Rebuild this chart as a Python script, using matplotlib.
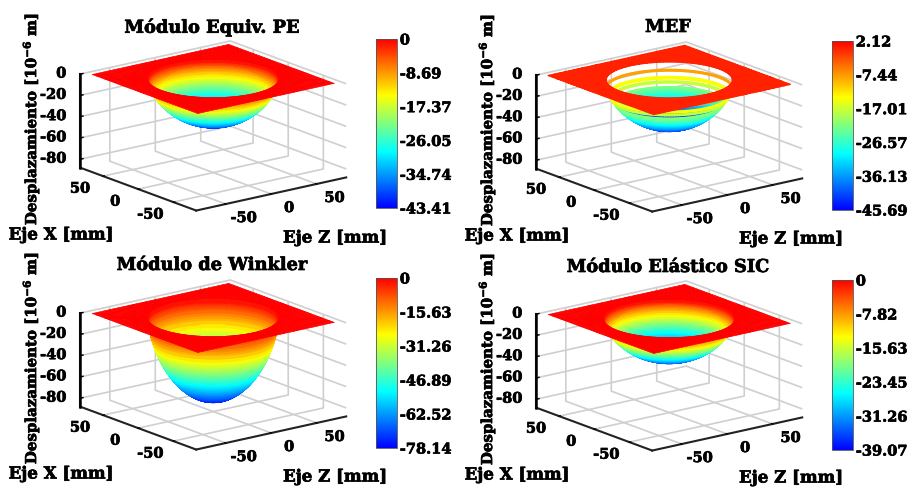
import numpy as np
import matplotlib
matplotlib.use("Agg")
import matplotlib.pyplot as plt
import matplotlib.patheffects as pe
from matplotlib.cm import ScalarMappable
from matplotlib.colors import LinearSegmentedColormap, Normalize
from matplotlib.text import Text
from mpl_toolkits.mplot3d.art3d import Poly3DCollection

titles = ['Módulo Equiv. PE', 'MEF', 'Módulo de Winkler', 'Módulo Elástico SIC']

# colorbar ends and labels
z_min = [-43.41, -45.69, -78.14, -39.07]
z_max = [0, 2.12, 0, 0]
cbar_ticks = [
    [-43.41, -34.74, -26.05, -17.37, -8.69, 0],
    [-45.69, -36.13, -26.57, -17.01, -7.44, 2.12],
    [-78.14, -62.52, -46.89, -31.26, -15.63, 0],
    [-39.07, -31.26, -23.45, -15.63, -7.82, 0],
]
cbar_labels = [
    ['-43.41', '-34.74', '-26.05', '-17.37', '-8.69', '0'],
    ['-45.69', '-36.13', '-26.57', '-17.01', '-7.44', '2.12'],
    ['-78.14', '-62.52', '-46.89', '-31.26', '-15.63', '0'],
    ['-39.07', '-31.26', '-23.45', '-15.63', '-7.82', '0'],
]

# bowl profile, radius in mm and depth per panel
radii = [0, 3, 6, 9, 12, 15, 18, 21, 24, 26, 28, 30, 32, 34, 36, 37.5, 39, 40.5, 42, 43,
         44, 45, 46, 47, 48, 49, 50, 51, 52, 53, 54, 54.5, 55, 55.5, 56, 56.3, 56.6, 56.8, 57]
depth_pe = [43.41, 43.33, 43.08, 42.72, 42.22, 41.52, 40.66, 39.60, 38.42, 37.50, 36.51,
            35.42, 34.29, 32.97, 31.56, 30.44, 29.26, 27.97, 26.61, 25.65, 24.66, 23.60,
            22.49, 21.30, 20.06, 18.75, 17.36, 15.84, 14.24, 12.46, 10.46, 9.38, 8.16,
            6.86, 5.30, 4.25, 3.00, 1.95, 0]
depth_mef = [45.69, 45.60, 45.35, 44.96, 44.44, 43.70, 42.80, 41.68, 40.44, 39.47, 38.42,
             37.28, 36.09, 34.70, 33.22, 32.04, 30.80, 29.44, 28.01, 27.00, 25.95, 24.84,
             23.67, 22.42, 21.11, 19.73, 18.28, 16.68, 14.99, 13.11, 11.01, 9.87, 8.59,
             7.22, 5.57, 4.48, 3.15, 2.06, 0]
depth_wink = [78.14, 78.00, 77.55, 76.90, 76.00, 74.74, 73.19, 71.28, 69.15, 67.50, 65.72,
              63.76, 61.73, 59.35, 56.81, 54.79, 52.67, 50.35, 47.90, 46.17, 44.38, 42.48,
              40.48, 38.34, 36.10, 33.75, 31.26, 28.52, 25.63, 22.43, 18.83, 16.88, 14.69,
              12.35, 9.53, 7.66, 5.39, 3.52, 0]
depth_sic = [39.07, 39.00, 38.78, 38.45, 38.00, 37.37, 36.60, 35.64, 34.58, 33.75, 32.86,
             31.88, 30.87, 29.67, 28.40, 27.40, 26.33, 25.17, 23.95, 23.09, 22.19, 21.24,
             20.24, 19.17, 18.05, 16.87, 15.63, 14.26, 12.81, 11.21, 9.42, 8.44, 7.35,
             6.17, 4.77, 3.83, 2.70, 1.76, 0]
depths = [depth_pe, depth_mef, depth_wink, depth_sic]

# plate half width and hole radius per panel, MEF has open bands near the rim
plate_half = 75
hole_radius = [57, 55, 57, 57]
open_bands = [[], [24, 25, 27, 29, 30, 31, 33, 34, 35, 36, 37], [], []]

x_ticks = [-50, 0, 50]
z_ticks = [-80, -60, -40, -20, 0]

# axis limits
H_LIM = 82.5
Z_LOW = -88

# axes rectangle in pixels (left, top of square) and colorbar (left, top, bottom)
W, H = 911, 487
AX_SIZE = 277
ax_px = [(71, -9), (527, -8), (71, 230), (527, 231)]
cb_px = [(376, 39, 208), (832, 41, 210), (376, 278, 448), (832, 280, 450)]
xlabel_px = [(61, 235), (517, 236), (61, 474), (517, 475)]
zlabel_px = [(335, 238), (791, 239), (335, 477), (791, 478)]
ylabel_px = [(31, 119), (487, 120), (31, 358), (487, 359)]
title_px = [(212, 27), (668, 27), (212, 265), (668, 267)]

plt.rcParams['font.family'] = 'DejaVu Serif'
plt.rcParams['font.weight'] = 'bold'
plt.rcParams['mathtext.fontset'] = 'dejavuserif'
plt.rcParams['axes.unicode_minus'] = False

cmap = LinearSegmentedColormap.from_list('bar', ['#0000ff', '#00ffff', '#ffff00', '#ff0000'], N=512)


def bowl_polys(depth, skip, n_theta=144):
    th = np.linspace(0, 2 * np.pi, n_theta + 1)
    polys, vals = [], []
    for i in range(len(radii) - 1):
        if i in skip:
            continue
        r0, r1 = radii[i], radii[i + 1]
        z0, z1 = -depth[i], -depth[i + 1]
        for j in range(n_theta):
            polys.append([
                (r0 * np.cos(th[j]), r0 * np.sin(th[j]), z0),
                (r1 * np.cos(th[j]), r1 * np.sin(th[j]), z1),
                (r1 * np.cos(th[j + 1]), r1 * np.sin(th[j + 1]), z1),
                (r0 * np.cos(th[j + 1]), r0 * np.sin(th[j + 1]), z0),
            ])
            vals.append((z0 + z1) / 2)
    return polys, vals


def plate_polys(hole, n_theta=144):
    th = np.linspace(0, 2 * np.pi, n_theta + 1)
    outer = plate_half / np.maximum(np.abs(np.cos(th)), np.abs(np.sin(th)))
    steps = [0, 0.1, 0.25, 0.45, 0.7, 1]
    polys = []
    for k in range(len(steps) - 1):
        r0 = hole + (outer - hole) * steps[k]
        r1 = hole + (outer - hole) * steps[k + 1]
        for j in range(n_theta):
            polys.append([
                (r0[j] * np.cos(th[j]), r0[j] * np.sin(th[j]), 0),
                (r1[j] * np.cos(th[j]), r1[j] * np.sin(th[j]), 0),
                (r1[j + 1] * np.cos(th[j + 1]), r1[j + 1] * np.sin(th[j + 1]), 0),
                (r0[j + 1] * np.cos(th[j + 1]), r0[j + 1] * np.sin(th[j + 1]), 0),
            ])
    return polys


def draw_panel(fig, i):
    left, top = ax_px[i]
    ax = fig.add_axes([left / W, (H - top - AX_SIZE) / H, AX_SIZE / W, AX_SIZE / H],
                      projection='3d', proj_type='ortho')
    ax.patch.set_alpha(0)
    norm = Normalize(z_min[i], z_max[i])

    polys, vals = bowl_polys(depths[i], open_bands[i])
    plate = plate_polys(hole_radius[i])
    polys = polys + plate
    vals = vals + [0] * len(plate)
    cols = cmap(norm(np.array(vals)))
    lw = 1.0 if open_bands[i] else 0.5
    ax.add_collection3d(Poly3DCollection(polys, facecolors=cols, edgecolors=cols, linewidths=lw))

    # z axis line on the left corner, matplotlib leaves it out there
    ax.plot([-H_LIM, -H_LIM], [H_LIM, H_LIM], [Z_LOW, 0], color='black', lw=1.8, zorder=20)
    for t in z_ticks:
        ax.plot([-H_LIM, -H_LIM + 3], [H_LIM, H_LIM], [t, t], color='black', lw=1.0, zorder=20)

    ax.set_xlim(-H_LIM, H_LIM)
    ax.set_ylim(-H_LIM, H_LIM)
    ax.set_zlim(Z_LOW, 0)
    ax.set_box_aspect((189.8, 189.8, 97.8))
    ax.view_init(elev=16.6, azim=-127.7)

    ax.set_xticks(x_ticks)
    ax.set_yticks(x_ticks)
    ax.set_zticks(z_ticks)
    ax.set_xticklabels([str(v) for v in x_ticks])
    ax.set_yticklabels([str(v) for v in x_ticks])
    ax.set_zticklabels([str(v) for v in z_ticks])
    ax.tick_params(axis='x', pad=8, labelsize=10.5)
    ax.tick_params(axis='y', pad=8, labelsize=10.5)
    ax.tick_params(axis='z', pad=-2.5, labelsize=10.5)

    for axis in (ax.xaxis, ax.yaxis, ax.zaxis):
        axis.set_pane_color((1, 1, 1, 0))
        axis.pane.set_edgecolor((1, 1, 1, 0))
        axis.line.set_color('#222222')
        axis.line.set_linewidth(1.5)
        axis._axinfo['grid']['color'] = '#cfcfcf'
        axis._axinfo['grid']['linewidth'] = 1.2
        axis._axinfo['tick']['color'] = '#222222'
        axis._axinfo['tick']['inward_factor'] = 0.05
        axis._axinfo['tick']['outward_factor'] = 0.12
    ax.zaxis.set_ticks_position('upper')
    for lab in ax.xaxis.get_ticklabels() + ax.yaxis.get_ticklabels():
        lab.set_va('bottom')
    for lab in ax.zaxis.get_ticklabels():
        lab.set_va('center')
        lab.set_ha('right')

    # colorbar
    cl, ct, cb = cb_px[i]
    cax = fig.add_axes([cl / W, (H - cb) / H, 21 / W, (cb - ct) / H])
    bar = fig.colorbar(ScalarMappable(norm=norm, cmap=cmap), cax=cax)
    bar.set_ticks(cbar_ticks[i])
    bar.set_ticklabels(cbar_labels[i])
    bar.ax.tick_params(length=0, pad=2, labelsize=10.5)
    bar.outline.set_edgecolor('#555555')
    bar.outline.set_linewidth(0.6)

    tx, ty = title_px[i]
    fig.text(tx / W, 1 - ty / H, titles[i], ha='center', va='center', fontsize=12.8)
    tx, ty = xlabel_px[i]
    fig.text(tx / W, 1 - ty / H, 'Eje X [mm]', ha='center', va='center', fontsize=12)
    tx, ty = zlabel_px[i]
    fig.text(tx / W, 1 - ty / H, 'Eje Z [mm]', ha='center', va='center', fontsize=12)
    tx, ty = ylabel_px[i]
    fig.text(tx / W, 1 - ty / H, r'Desplazamiento [10$^{\mathbf{-6}}$ m]', rotation=90,
             ha='center', va='center', fontsize=10.8)


def main():
    fig = plt.figure(figsize=(W / 100, H / 100), dpi=100)
    for i in range(4):
        draw_panel(fig, i)
    # the lettering in the picture is heavier than any bold face here
    for txt in fig.findobj(Text):
        txt.set_path_effects([pe.withStroke(linewidth=0.5, foreground='black')])
    fig.savefig('out.png', dpi=100)


if __name__ == "__main__":
    main()
